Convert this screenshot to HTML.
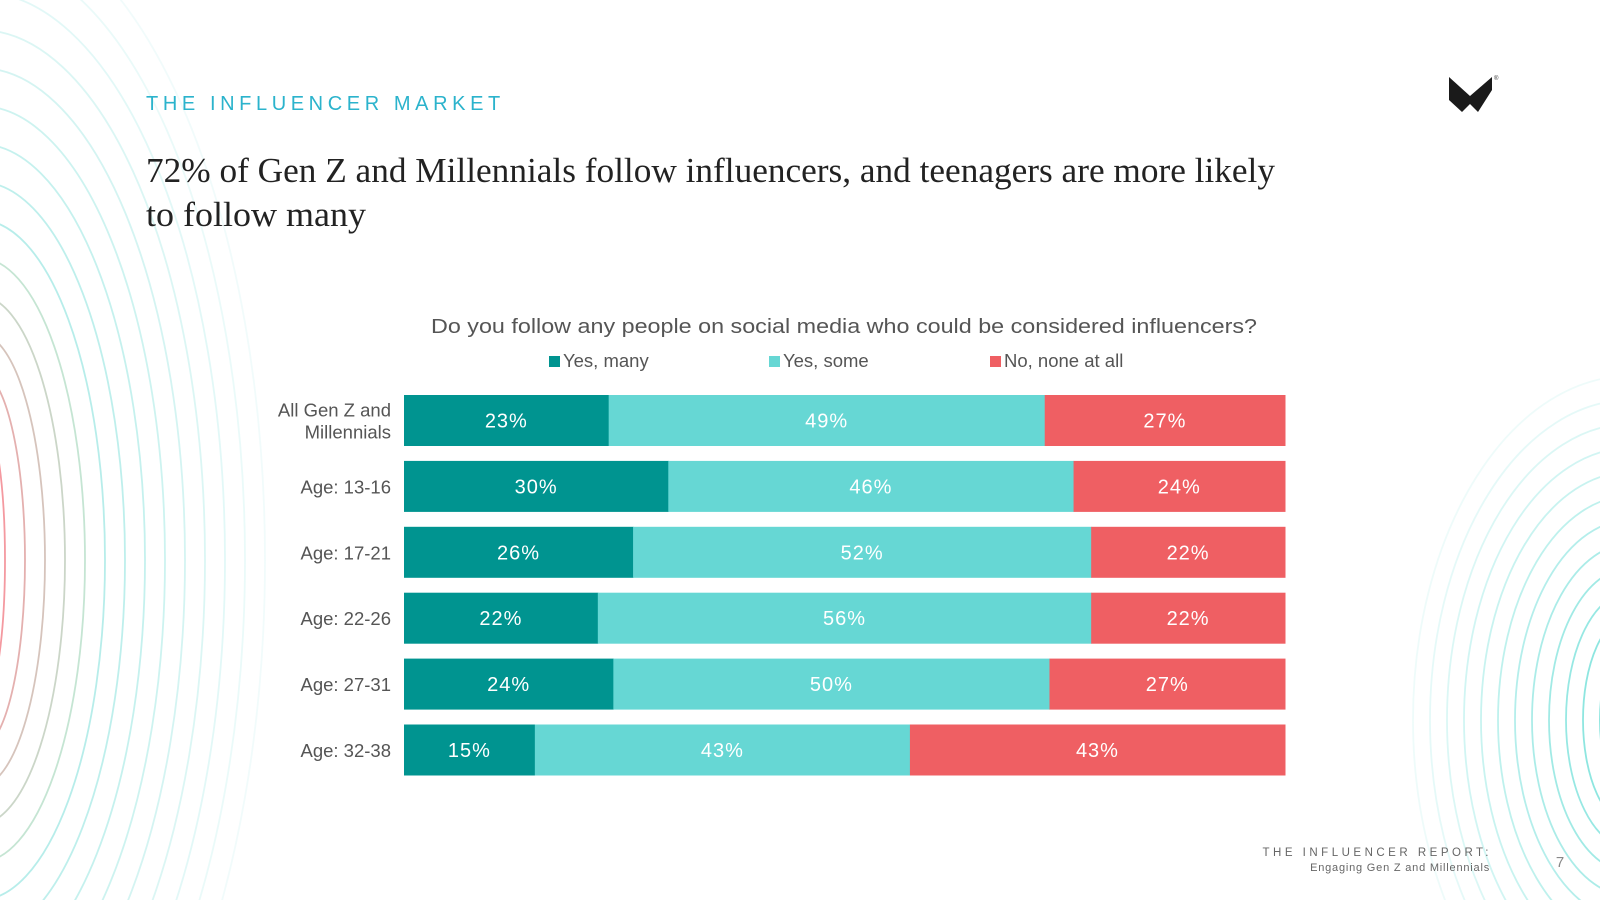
<!DOCTYPE html>
<html><head><meta charset="utf-8"><style>
html,body{margin:0;padding:0;background:#fff;width:1600px;height:900px;overflow:hidden;}
#root{position:relative;width:1600px;height:900px;overflow:hidden;font-family:"Liberation Sans",sans-serif;}
svg{position:absolute;left:0;top:0;display:block;}
</style></head><body>
<div id="root">
<svg id="bg" width="1600" height="900"></svg>
<svg id="main" width="1600" height="900">
  <text x="146" y="110" font-size="20" fill="#2bb3cc" letter-spacing="4.6">THE INFLUENCER MARKET</text>
  <text x="146" y="182" font-family="Liberation Serif" font-size="35" fill="#222" textLength="1129" lengthAdjust="spacingAndGlyphs">72% of Gen Z and Millennials follow influencers, and teenagers are more likely</text>
  <text x="146" y="226" font-family="Liberation Serif" font-size="35" fill="#222" textLength="220" lengthAdjust="spacingAndGlyphs">to follow many</text>
  <g>
    <path d="M1449,77 L1470,96 L1492,77 L1492,90 L1478,112 L1470,104 L1462,112 L1449,112 Z" fill="#1a1a1a"/>
    <polygon points="1449,100 1462,112 1449,112" fill="#fff"/>
    <text x="1494" y="80" font-size="6" fill="#333">®</text>
  </g>
  <text x="844" y="333" font-size="20.5" fill="#555" text-anchor="middle" textLength="826" lengthAdjust="spacingAndGlyphs">Do you follow any people on social media who could be considered influencers?</text>
  <g id="legend"></g>
  <g id="bars"></g>
  <text x="1492" y="856" font-size="11.5" fill="#666" text-anchor="end" letter-spacing="3.5">THE INFLUENCER REPORT:</text>
  <text x="1490" y="871" font-size="11" fill="#666" text-anchor="end" letter-spacing="0.8">Engaging Gen Z and Millennials</text>
  <text x="1560" y="867" font-size="15" fill="#888" text-anchor="middle">7</text>
</svg>
</div>
<script>
const categories = ["All Gen Z and|Millennials","Age: 13-16","Age: 17-21","Age: 22-26","Age: 27-31","Age: 32-38"];
const yesMany = [23,30,26,22,24,15];
const yesSome = [49,46,52,56,50,43];
const noneAtAll = [27,24,22,22,27,43];
const seriesNames = ["Yes, many","Yes, some","No, none at all"];
const seriesColors = ["#009490","#66d7d4","#ef5f63"];

const NS="http://www.w3.org/2000/svg";
function mk(tag, attrs, parent){const e=document.createElementNS(NS,tag);for(const k in attrs)e.setAttribute(k,attrs[k]);parent.appendChild(e);return e;}

// background contours
const bg=document.getElementById('bg');
for(let i=0;i<14;i++){
  const col = i<5 ? `rgb(${240-i*28},${110+i*22},${120+i*10})` : '#5fd8d0';
  const op = i<5 ? 0.7 - i*0.06 : 0.45 - (i-5)*0.045;
  const rx=25+i*20, ry=150+i*38;
  const p=mk('ellipse',{cx:-20,cy:560,rx:rx,ry:ry,fill:'none',stroke:col,'stroke-width':1.8,opacity:Math.max(op,0.06)},bg);
  
  
}
for(let i=0;i<12;i++){
  const op=0.7-i*0.055;
  const p=mk('ellipse',{cx:1630,cy:720,rx:30+i*17,ry:80+i*24,fill:'none',stroke:'#4fd8cf','stroke-width':1.8,opacity:Math.max(op,0.06)},bg);
  
  
}

// axis functions
const X0=404, X1=1285, Y0=395, PITCH=65.9, BH=51;
function yPos(i){return Y0+i*PITCH;}

const legend=document.getElementById('legend');
const legX=[549,769,990];
seriesNames.forEach((n,k)=>{
  const r=mk('rect',{x:legX[k],y:356,width:11,height:11,fill:seriesColors[k]},legend);
  
  
  const t=mk('text',{x:legX[k]+14,y:367,'font-size':18.5,fill:'#555'},legend);
  t.textContent=n;
  
  
});

const bars=document.getElementById('bars');
categories.forEach((c,i)=>{
  const vals=[yesMany[i],yesSome[i],noneAtAll[i]];
  const sum=vals.reduce((a,b)=>a+b,0);
  const y=yPos(i);
  let x=X0;
  vals.forEach((v,k)=>{
    const w=v/sum*(X1-X0);
    const r=mk('rect',{x:x,y:y,width:w+0.5,height:BH,fill:seriesColors[k]},bars);
    
    
    const t=mk('text',{x:x+w/2,y:y+BH/2+7,'font-size':20,fill:'#fff','text-anchor':'middle','letter-spacing':1},bars);
    t.textContent=v+'%';
    
    
    x+=w;
  });
  const lines=c.split('|');
  lines.forEach((ln,j)=>{
    const off = lines.length===1 ? 7 : (j===0?-4:18);
    const t=mk('text',{x:391,y:y+BH/2+off,'font-size':18.5,fill:'#555','text-anchor':'end'},bars);
    t.textContent=ln;
    
    
  });
});
</script>
</body></html>
